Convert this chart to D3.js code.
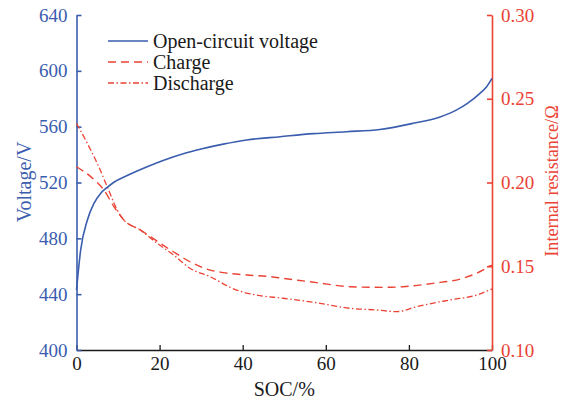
<!DOCTYPE html>
<html><head><meta charset="utf-8">
<script src="https://cdn.jsdelivr.net/npm/d3@7"></script>
<style>body{margin:0;background:#fff}svg{display:block}text{font-family:"Liberation Serif","Times New Roman",serif}</style>
</head><body><svg id="c" width="569" height="401"></svg>
<script>
const socTicks = [0,20,40,60,80,100];
const voltTicks = [400,440,480,520,560,600,640];
const resTicks = [0.10,0.15,0.20,0.25,0.30];

const ocvSoc = [0,1.0,2.6,4.2,5.8,7.4,9.0,12.2,17,21,25.9,30,35.3,41,49,57,65,73,81,87.5,91.5,94,97.1,98.7,100];
const ocvV   = [443,471.6,493,505,512.2,516.5,520.2,525,531.3,536,540.8,544,547.5,550.5,552.8,555,556.4,558,562.4,567,572,576.5,583.9,588.6,594.6];

const chgSoc = [0,3.4,6.6,9,11.4,15.4,19.4,23.4,28,32,35.3,41,46.5,49.7,57.8,65.8,73.8,78.6,85.8,93,97.9,99.5,100];
const chgR   = [0.2094,0.2035,0.1955,0.1856,0.1776,0.1716,0.1650,0.1585,0.1518,0.1478,0.1462,0.1448,0.1438,0.1428,0.1402,0.1378,0.1374,0.1378,0.1398,0.1428,0.1478,0.1502,0.1505];

const disSoc = [0,2.6,5,7.4,9.8,11.4,15.4,19.4,23.4,27.3,32.1,38.5,43.3,49.7,57.8,65.8,72.2,77.1,81.9,89.9,96.3,100];
const disR   = [0.2353,0.2234,0.2114,0.1975,0.1836,0.1776,0.1716,0.1637,0.1567,0.1488,0.1438,0.1358,0.1328,0.1309,0.1282,0.1249,0.1239,0.1229,0.1259,0.1299,0.1328,0.1365];

const legendLabels = ["Open-circuit voltage","Charge","Discharge"];

const BLUE = "#3a5dae", RED = "#ea4335", BLACK = "#1a1a1a";
const svg = d3.select("#c");
const L = 76.5, R = 492, T = 15, B = 350;
const x = d3.scaleLinear().domain([0,100]).range([L,R]);
const yV = d3.scaleLinear().domain([400,640]).range([B,T]);
const yR = d3.scaleLinear().domain([0.10,0.30]).range([B,T]);
const FS = 19;

// bottom axis
const gx = svg.append("g").attr("transform",`translate(0,${B})`)
  .call(d3.axisBottom(x).tickValues(socTicks).tickSizeInner(-5).tickSizeOuter(0).tickPadding(7));
gx.select(".domain").attr("stroke",BLACK).attr("stroke-width",1.3);
gx.selectAll(".tick line").attr("stroke",BLACK).attr("stroke-width",1.3);
gx.selectAll("text").attr("fill",BLACK).attr("font-size",FS).attr("font-family","Liberation Serif");

// left axis
const gl = svg.append("g").attr("transform",`translate(${L},0)`)
  .call(d3.axisLeft(yV).tickValues(voltTicks).tickSizeInner(-5).tickSizeOuter(0).tickPadding(9));
gl.select(".domain").attr("stroke",BLUE).attr("stroke-width",1.6);
gl.selectAll(".tick line").attr("stroke",BLUE).attr("stroke-width",1.6);
gl.selectAll("text").attr("fill",BLUE).attr("font-size",FS).attr("font-family","Liberation Serif");

// right axis
const gr = svg.append("g").attr("transform",`translate(${R},0)`)
  .call(d3.axisRight(yR).tickValues(resTicks).tickFormat(d3.format(".2f")).tickSizeInner(-5).tickSizeOuter(0).tickPadding(9));
gr.select(".domain").attr("stroke",RED).attr("stroke-width",1.6);
gr.selectAll(".tick line").attr("stroke",RED).attr("stroke-width",1.6);
gr.selectAll("text").attr("fill",RED).attr("font-size",FS).attr("font-family","Liberation Serif");

// axis titles
svg.append("text").attr("x",(L+R)/2).attr("y",396).attr("text-anchor","middle")
  .attr("font-size",20).attr("fill",BLACK).text("SOC/%");
svg.append("text").attr("transform",`translate(31,182) rotate(-90)`).attr("text-anchor","middle")
  .attr("font-size",20).attr("fill",BLUE).text("Voltage/V");
svg.append("text").attr("transform",`translate(558,181) rotate(-90)`).attr("text-anchor","middle")
  .attr("font-size",18.2).attr("fill",RED).text("Internal resistance/Ω");

// lines
const lineV = d3.line().x((d,i)=>x(ocvSoc[i])).y(d=>yV(d)).curve(d3.curveMonotoneX);
const lineR = (s)=>d3.line().x((d,i)=>x(s[i])).y(d=>yR(d)).curve(d3.curveMonotoneX);
const DASH = "8,5", DASHDOT = "6,2.5,1.5,2.5";

svg.append("path").attr("d",lineR(chgSoc)(chgR)).attr("fill","none").attr("stroke",RED)
  .attr("stroke-width",1.4).attr("stroke-dasharray",DASH);
svg.append("path").attr("d",lineR(disSoc)(disR)).attr("fill","none").attr("stroke",RED)
  .attr("stroke-width",1.3).attr("stroke-dasharray",DASHDOT);
svg.append("path").attr("d",lineV(ocvV)).attr("fill","none").attr("stroke",BLUE)
  .attr("stroke-width",1.6);

// legend
const styles = [{c:BLUE,d:null,w:1.6},{c:RED,d:DASH,w:1.4},{c:RED,d:DASHDOT,w:1.3}];
const lg = svg.append("g");
legendLabels.forEach((t,i)=>{
  const yy = 41 + i*21;
  const ln = lg.append("line").attr("x1",108).attr("x2",148).attr("y1",yy).attr("y2",yy)
    .attr("stroke",styles[i].c).attr("stroke-width",styles[i].w);
  if(styles[i].d) ln.attr("stroke-dasharray",styles[i].d);
  lg.append("text").attr("x",153).attr("y",yy).attr("dy","0.35em").attr("font-size",20)
    .attr("fill",BLACK).text(t);
});
</script></body></html>
